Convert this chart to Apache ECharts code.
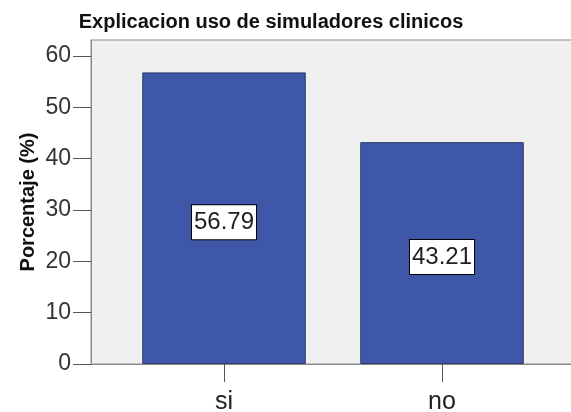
<!DOCTYPE html>
<html>
<head>
<meta charset="utf-8">
<script src="https://cdn.jsdelivr.net/npm/echarts@6/dist/echarts.min.js"></script>
<style>
  html, body { margin: 0; padding: 0; background: #fff; }
  #chart { width: 571px; height: 412px; }
</style>
</head>
<body>
<div id="chart"></div>
<script>
const categories = ["si", "no"];
const percentages = [56.79, 43.21];
const yTicks = [0, 10, 20, 30, 40, 50, 60];

const font = "Liberation Sans, Arial, sans-serif";
const myChart = echarts.init(document.getElementById("chart"));

let option = {
  animation: false,
  textStyle: { fontFamily: font },
  title: {
    text: "Explicacion uso de simuladores clinicos",
    left: 266,
    top: 7,
    textAlign: "center",
    textStyle: { fontSize: 20, fontWeight: "bold", color: "#111", fontFamily: font }
  },
  grid: [
    // frame with grey background
    {
      left: 91, right: -2, top: 40, bottom: 48,
      outerBoundsMode: "none",
      show: true,
      backgroundColor: "#f0f0f0",
      borderColor: "#8a8a8a",
      borderWidth: 1
    },
    // bars
    { left: 115, right: 20, top: 40, bottom: 48, outerBoundsMode: "none" }
  ],
  xAxis: [
    {
      gridIndex: 0, type: "value", min: 0, max: 1,
      axisLine: { show: true, lineStyle: { color: "#8a8a8a" } },
      axisTick: { show: false },
      axisLabel: { show: false },
      splitLine: { show: false }
    },
    {
      gridIndex: 1, type: "category", data: categories,
      axisLine: { show: false },
      axisTick: { show: true, alignWithLabel: true, length: 18, lineStyle: { color: "#555" } },
      axisLabel: { fontSize: 25, color: "#222", margin: 26 }
    }
  ],
  yAxis: [
    {
      gridIndex: 0, type: "value", min: 0, max: 63.1, interval: 10,
      name: "Porcentaje (%)",
      nameLocation: "middle",
      nameGap: 53,
      nameMoveOverlap: false,
      nameTextStyle: { fontSize: 20, fontWeight: "bold", color: "#111" },
      axisLine: { show: true, lineStyle: { color: "#8a8a8a" } },
      axisTick: { show: true, length: 18, customValues: yTicks, lineStyle: { color: "#555" } },
      axisLabel: {
        fontSize: 23, color: "#333", margin: 20, customValues: yTicks,
        formatter: v => (v % 10 === 0 ? String(v) : "")
      },
      splitLine: { show: false }
    },
    {
      gridIndex: 1, type: "value", min: 0, max: 63.1,
      show: false
    }
  ],
  series: [
    {
      type: "bar",
      xAxisIndex: 1,
      yAxisIndex: 1,
      data: percentages,
      barWidth: "75%",
      itemStyle: { color: "#3e57a8", borderColor: "#2b3a6b", borderWidth: 1 },
      label: {
        show: true,
        position: "inside",
        offset: [0, 4],
        formatter: p => p.value.toFixed(2),
        fontSize: 24,
        color: "#222",
        backgroundColor: "#fff",
        borderColor: "#000",
        borderWidth: 1,
        padding: [6, 2, 4, 2]
      }
    }
  ]
};
myChart.setOption(option);
</script>
</body>
</html>
